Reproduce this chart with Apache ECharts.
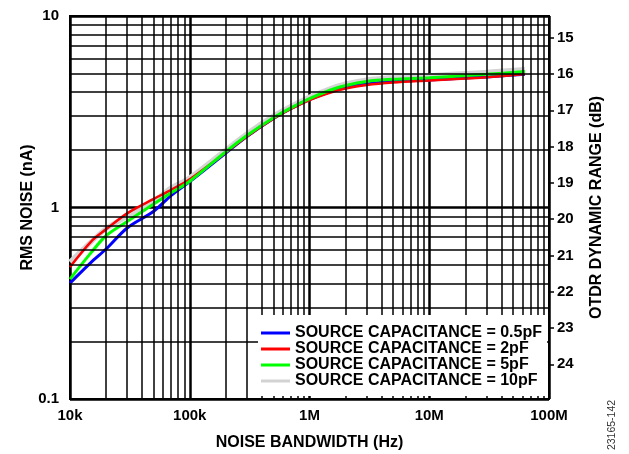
<!DOCTYPE html>
<html>
<head>
<meta charset="utf-8">
<style>
  html, body { margin: 0; padding: 0; background: #fff; }
  #chart { width: 629px; height: 454px; }
</style>
<script src="https://cdn.jsdelivr.net/npm/echarts@6/dist/echarts.min.js"></script>
</head>
<body>
<div id="chart"></div>
<script>
// Noise bandwidth sample points (Hz)
const bandwidthHz = [1e4, 1.5e4, 2e4, 3e4, 5e4, 7e4, 1e5, 2e5, 3e5, 5e5, 7e5,
                     1e6, 1.5e6, 2e6, 3e6, 5e6, 1e7, 2e7, 3e7, 6.3e7];

// RMS noise (nA) for each source capacitance
const noise05pF = [0.403, 0.517, 0.607, 0.782, 0.956, 1.157, 1.365, 1.926, 2.349, 2.916, 3.289,
                   3.664, 4.034, 4.233, 4.415, 4.550, 4.632, 4.746, 4.802, 4.962];
const noise2pF  = [0.489, 0.664, 0.769, 0.932, 1.108, 1.237, 1.404, 1.937, 2.349, 2.906, 3.268,
                   3.642, 3.986, 4.182, 4.362, 4.495, 4.605, 4.717, 4.786, 4.980];
const noise5pF  = [0.423, 0.581, 0.712, 0.845, 1.043, 1.193, 1.372, 1.954, 2.374, 2.941, 3.312,
                   3.704, 4.108, 4.336, 4.555, 4.672, 4.762, 4.890, 4.962, 5.125];
const noise10pF = [0.519, 0.662, 0.775, 0.900, 1.079, 1.266, 1.431, 1.997, 2.426, 3.005, 3.377,
                   3.776, 4.182, 4.415, 4.632, 4.774, 4.879, 5.009, 5.082, 5.256];

const seriesNames = ['SOURCE CAPACITANCE = 0.5pF', 'SOURCE CAPACITANCE = 2pF',
                     'SOURCE CAPACITANCE = 5pF', 'SOURCE CAPACITANCE = 10pF'];

// Axis tick labels
const xTickLabels = ['10k', '100k', '1M', '10M', '100M'];
const yTickLabels = ['0.1', '1', '10'];
const dbTickValues = [15, 16, 17, 18, 19, 20, 21, 22, 23, 24];

// Decades used for the logarithmic minor grid (2..9 within each decade)
const xDecades = [1e4, 1e5, 1e6, 1e7];
const yDecades = [0.1, 1];
const minorSteps = [2, 3, 4, 5, 6, 7, 8, 9];

const FONT = '"Liberation Sans", Arial, Helvetica, sans-serif';

const minorGrid = [];
xDecades.forEach(d => minorSteps.forEach(s => minorGrid.push({ xAxis: d * s })));
yDecades.forEach(d => minorSteps.forEach(s => minorGrid.push({ yAxis: +(d * s).toPrecision(3) })));

function pairs(vals) { return bandwidthHz.map((f, i) => [f, vals[i]]); }

function curve(name, vals, color, width) {
  return {
    name: name, type: 'line', data: pairs(vals), z: 3,
    xAxisIndex: 0, yAxisIndex: 0,
    showSymbol: false, symbol: 'none', smooth: 0.3,
    lineStyle: { color: color, width: width },
    itemStyle: { color: color }
  };
}

const chart = echarts.init(document.getElementById('chart'), null, { renderer: 'canvas' });

chart.setOption({
  animation: false,
  backgroundColor: '#fff',
  grid: {
    left: 70, right: 80, top: 16, bottom: 55,
    outerBoundsMode: 'none', containLabel: false,
    show: true, borderColor: '#000', borderWidth: 2, backgroundColor: 'transparent'
  },
  legend: {
    data: seriesNames,
    orient: 'vertical',
    z: 20,
    left: 257, top: 317,
    padding: [8, 6, 6, 4],
    itemGap: 0,
    itemWidth: 29, itemHeight: 3,
    icon: 'rect',
    selectedMode: false,
    textStyle: { color: '#000', fontFamily: FONT, fontWeight: 'bold', fontSize: 16, lineHeight: 14 }
  },
  xAxis: [{
    type: 'log', logBase: 10, min: 1e4, max: 1e8,
    name: 'NOISE BANDWIDTH (Hz)', nameLocation: 'middle', nameGap: 36, nameMoveOverlap: false,
    nameTextStyle: { color: '#000', fontFamily: FONT, fontWeight: 'bold', fontSize: 16 },
    axisLine: { show: false },
    axisTick: { show: false },
    axisLabel: {
      color: '#000', fontFamily: FONT, fontWeight: 'bold', fontSize: 15, margin: 9,
      formatter: v => xTickLabels[Math.round(Math.log10(v)) - 4]
    },
    splitLine: { show: true, lineStyle: { color: '#000', width: 2.5 } }
  }],
  yAxis: [{
    type: 'log', logBase: 10, min: 0.1, max: 10,
    name: 'RMS NOISE (nA)', nameLocation: 'middle', nameGap: 34, nameRotate: 90, nameMoveOverlap: false,
    nameTextStyle: { color: '#000', fontFamily: FONT, fontWeight: 'bold', fontSize: 16 },
    axisLine: { show: false },
    axisTick: { show: false },
    axisLabel: {
      color: '#000', fontFamily: FONT, fontWeight: 'bold', fontSize: 15, margin: 11,
      formatter: v => yTickLabels[Math.round(Math.log10(v)) + 1]
    },
    splitLine: { show: true, lineStyle: { color: '#000', width: 2.5 } }
  }, {
    type: 'value', position: 'right', min: 14.402, max: 24.956, inverse: true,
    name: 'OTDR DYNAMIC RANGE (dB)', nameLocation: 'middle', nameGap: 40, nameRotate: 90, nameMoveOverlap: false,
    nameTextStyle: { color: '#000', fontFamily: FONT, fontWeight: 'bold', fontSize: 16 },
    axisLine: { show: false },
    axisTick: { show: true, length: 5, customValues: dbTickValues, lineStyle: { color: '#000', width: 1.5 } },
    axisLabel: {
      show: true, customValues: dbTickValues, margin: 8,
      color: '#000', fontFamily: FONT, fontWeight: 'bold', fontSize: 15
    },
    splitLine: { show: false }
  }],
  graphic: [{
    // white panel behind the legend, leaving the bottom grid stubs visible
    type: 'rect', z: 10,
    shape: { x: 258, y: 315, width: 289, height: 81 },
    style: { fill: '#fff' }
  }, {
    type: 'text', x: 612, y: 425, rotation: Math.PI / 2,
    style: { text: '23165-142', fill: '#333', font: '10.5px ' + FONT, textAlign: 'center', textVerticalAlign: 'middle' }
  }],
  series: [
    {
      name: 'minor-grid', type: 'line', data: [], z: 1,
      xAxisIndex: 0, yAxisIndex: 0,
      markLine: {
        silent: true, animation: false, symbol: ['none', 'none'],
        label: { show: false },
        lineStyle: { color: '#000', width: 1.5, type: 'solid' },
        emphasis: { disabled: true },
        data: minorGrid
      }
    },
    curve(seriesNames[3], noise10pF, '#d3d3d3', 5),
    curve(seriesNames[0], noise05pF, '#0000ff', 3),
    curve(seriesNames[1], noise2pF, '#ff0000', 2.5),
    curve(seriesNames[2], noise5pF, '#00ff00', 3)
  ]
});
</script>
</body>
</html>
